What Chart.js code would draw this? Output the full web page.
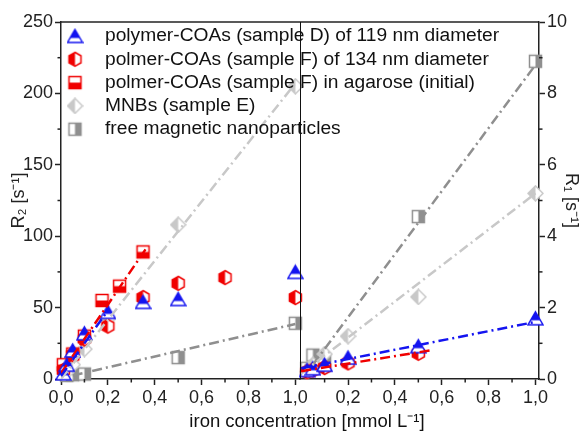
<!DOCTYPE html>
<html>
<head>
<meta charset="utf-8">
<script src="https://cdn.jsdelivr.net/npm/chart.js@4/dist/chart.umd.min.js"></script>
<style>
  html, body { margin: 0; padding: 0; background: #fff; }
</style>
</head>
<body>
<canvas id="chart" width="585" height="432"></canvas>
<script>
// legend labels
const seriesNames = [
  'polymer-COAs (sample D) of 119 nm diameter',
  'polmer-COAs (sample F) of 134 nm diameter',
  'polmer-COAs (sample F) in agarose (initial)',
  'MNBs (sample E)',
  'free magnetic nanoparticles'
];

// ticks
const xTicksL = [0, 0.2, 0.4, 0.6, 0.8, 1.0];
const xLabelsL = ['0,0', '0,2', '0,4', '0,6', '0,8', '1,0'];
const xTicksR = [0.2, 0.4, 0.6, 0.8, 1.0];
const xLabelsR = ['0,2', '0,4', '0,6', '0,8', '1,0'];
const xMinor = [0.1, 0.3, 0.5, 0.7, 0.9];
const r2Ticks = [0, 50, 100, 150, 200, 250];
const r2Minor = [25, 75, 125, 175, 225];
const r1Ticks = [0, 2, 4, 6, 8, 10];
const r1Minor = [1, 3, 5, 7, 9];

// left panel, R2 [s-1]
const r2_D_x = [0.01, 0.025, 0.05, 0.1, 0.2, 0.35, 0.5, 1.0];
const r2_D_y = [4, 10, 20, 32, 47, 54, 56, 75];
const r2_F_x = [0.01, 0.05, 0.1, 0.2, 0.35, 0.5, 0.7, 1.0];
const r2_F_y = [6, 17, 28, 37, 57, 67, 71, 57];
const r2_Fag_x = [0.01, 0.05, 0.1, 0.175, 0.25, 0.35];
const r2_Fag_y = [10, 17.5, 30, 55, 65, 89];
const r2_E_x = [0.025, 0.05, 0.1, 0.2, 0.5, 1.0];
const r2_E_y = [5, 10, 21, 42, 108, 205];
const r2_free_x = [0.025, 0.05, 0.1, 0.5, 1.0];
const r2_free_y = [2.5, 3, 3.5, 15, 39];

// left panel fit lines (end points)
const r2_D_fitX = [0, 0.2];
const r2_D_fitY = [2, 48];
const r2_Fag_fitX = [0, 0.37];
const r2_Fag_fitY = [4, 93];
const r2_E_fitX = [0, 1.0];
const r2_E_fitY = [0, 207];
const r2_free_fitX = [0.05, 1.0];
const r2_free_fitY = [2.5, 38.5];

// right panel, R1 [s-1]
const r1_D_x = [0.025, 0.05, 0.1, 0.2, 0.5, 1.0];
const r1_D_y = [0.25, 0.3, 0.4, 0.6, 0.92, 1.7];
const r1_F_x = [0.025, 0.05, 0.1, 0.2, 0.5];
const r1_F_y = [0.2, 0.25, 0.32, 0.45, 0.72];
const r1_E_x = [0.025, 0.05, 0.1, 0.2, 0.5, 1.0];
const r1_E_y = [0.2, 0.4, 0.7, 1.2, 2.3, 5.2];
const r1_free_x = [0.025, 0.05, 0.1, 0.5, 1.0];
const r1_free_y = [0.3, 0.67, 0.5, 4.55, 8.9];

// right panel fit lines
const r1_D_fitX = [0, 1.0];
const r1_D_fitY = [0.3, 1.6];
const r1_F_fitX = [0, 0.55];
const r1_F_fitY = [0.22, 0.8];
const r1_E_fitX = [0, 1.0];
const r1_E_fitY = [0.15, 5.2];
const r1_free_fitX = [0.05, 1.0];
const r1_free_fitY = [0.4, 8.8];

const BLUE = '#1414f0';
const RED = '#f00000';
const LGRAY = '#c8c8c8';
const DGRAY = '#8f8f8f';
const AXIS = '#222';
const FONT = '"Liberation Sans", Arial, sans-serif';

const pts = (xs, ys) => xs.map((x, i) => ({ x: x, y: ys[i] }));

// half filled markers
function marker(kind, color) {
  const c = document.createElement('canvas');
  c.width = 17; c.height = 17;
  const g = c.getContext('2d');
  g.beginPath();
  let clip;
  if (kind === 'tri') {
    g.moveTo(8.5, 2); g.lineTo(16, 15); g.lineTo(1, 15); g.closePath();
    clip = [0, 0, 17, 10.5];
  } else if (kind === 'hex') {
    g.moveTo(8.5, 1.5); g.lineTo(14.5, 5); g.lineTo(14.5, 12);
    g.lineTo(8.5, 15.5); g.lineTo(2.5, 12); g.lineTo(2.5, 5); g.closePath();
    clip = [0, 0, 8.5, 17];
  } else if (kind === 'sqBottom') {
    g.rect(2.5, 2.5, 12, 12);
    clip = [0, 8.5, 17, 9];
  } else if (kind === 'dia') {
    g.moveTo(8.5, 1); g.lineTo(16, 8.5); g.lineTo(8.5, 16); g.lineTo(1, 8.5); g.closePath();
    clip = [0, 0, 8.5, 17];
  } else {
    g.rect(2.5, 2.5, 12, 12);
    clip = [8.5, 0, 9, 17];
  }
  g.fillStyle = '#fff';
  g.fill();
  g.save();
  g.clip();
  g.fillStyle = color;
  g.fillRect(clip[0], clip[1], clip[2], clip[3]);
  g.restore();
  g.strokeStyle = color;
  g.lineWidth = 1.5;
  g.stroke();
  return c;
}

const markers = [
  marker('tri', BLUE),
  marker('hex', RED),
  marker('sqBottom', RED),
  marker('dia', LGRAY),
  marker('sqRight', DGRAY)
];

function scatter(xs, ys, idx, xAxis, yAxis) {
  return {
    data: pts(xs, ys),
    xAxisID: xAxis, yAxisID: yAxis,
    pointStyle: markers[idx],
    showLine: false,
    clip: false,
    order: 1
  };
}

function fit(xs, ys, color, xAxis, yAxis) {
  return {
    data: pts(xs, ys),
    xAxisID: xAxis, yAxisID: yAxis,
    showLine: true,
    borderColor: color,
    borderWidth: 2.5,
    borderDash: [10, 4, 2, 4],
    pointRadius: 0,
    order: 0
  };
}

const datasets = [
  scatter(r2_D_x, r2_D_y, 0, 'xL', 'yL'),
  scatter(r2_F_x, r2_F_y, 1, 'xL', 'yL'),
  scatter(r2_Fag_x, r2_Fag_y, 2, 'xL', 'yL'),
  scatter(r2_E_x, r2_E_y, 3, 'xL', 'yL'),
  scatter(r2_free_x, r2_free_y, 4, 'xL', 'yL'),
  fit(r2_D_fitX, r2_D_fitY, BLUE, 'xL', 'yL'),
  fit(r2_Fag_fitX, r2_Fag_fitY, RED, 'xL', 'yL'),
  fit(r2_E_fitX, r2_E_fitY, LGRAY, 'xL', 'yL'),
  fit(r2_free_fitX, r2_free_fitY, DGRAY, 'xL', 'yL'),

  scatter(r1_D_x, r1_D_y, 0, 'xR', 'yR'),
  scatter(r1_F_x, r1_F_y, 1, 'xR', 'yR'),
  scatter(r1_E_x, r1_E_y, 3, 'xR', 'yR'),
  scatter(r1_free_x, r1_free_y, 4, 'xR', 'yR'),
  fit(r1_D_fitX, r1_D_fitY, BLUE, 'xR', 'yR'),
  fit(r1_F_fitX, r1_F_fitY, RED, 'xR', 'yR'),
  fit(r1_E_fitX, r1_E_fitY, LGRAY, 'xR', 'yR'),
  fit(r1_free_fitX, r1_free_fitY, DGRAY, 'xR', 'yR')
];

const tickFont = { family: FONT, size: 18 };
const grid = { display: true, drawOnChartArea: false, drawTicks: true, tickLength: 6, color: AXIS, tickWidth: 1.5 };
const border = { display: true, color: AXIS, width: 1.5 };

function xAxis(min, max, tickVals, labels) {
  return {
    type: 'linear', position: 'bottom', stack: 'panels', stackWeight: 1,
    min: min, max: max,
    afterBuildTicks: s => { s.ticks = tickVals.map(v => ({ value: v })); },
    ticks: { font: tickFont, color: '#222', padding: 2, maxRotation: 0, autoSkip: false,
             callback: (v, i) => labels[i] },
    grid: grid, border: border,
    afterFit: s => { s.height = 53; }
  };
}

const extras = {
  id: 'extras',
  afterDraw(chart) {
    const { ctx, chartArea: a, scales } = chart;
    const line = (x1, y1, x2, y2) => { ctx.beginPath(); ctx.moveTo(x1, y1); ctx.lineTo(x2, y2); ctx.stroke(); };
    ctx.save();
    ctx.strokeStyle = AXIS;
    ctx.lineWidth = 1.5;
    line(a.left, a.top, a.right, a.top);
    // minor ticks
    xMinor.forEach(v => {
      let p = scales.xL.getPixelForValue(v); line(p, a.bottom, p, a.bottom + 3.5);
      p = scales.xR.getPixelForValue(v); line(p, a.bottom, p, a.bottom + 3.5);
    });
    r2Minor.forEach(v => { const p = scales.yL.getPixelForValue(v); line(a.left - 3.5, p, a.left, p); });
    r1Minor.forEach(v => { const p = scales.yR.getPixelForValue(v); line(a.right, p, a.right + 3.5, p); });
    // panel divider
    ctx.lineWidth = 1;
    ctx.strokeStyle = '#111';
    const xd = Math.round(scales.xR.left) + 0.5;
    line(xd, a.top, xd, a.bottom);
    // legend
    ctx.font = '19.2px ' + FONT;
    ctx.fillStyle = '#111';
    ctx.textBaseline = 'middle';
    seriesNames.forEach((name, i) => {
      const y = a.top + 14 + i * 23.3;
      const m = markers[i];
      ctx.drawImage(m, a.left + 14 - m.width / 2, y - m.height / 2);
      ctx.fillText(name, a.left + 44, y);
    });
    // x title
    ctx.font = '18.5px ' + FONT;
    ctx.textAlign = 'center';
    ctx.fillText('iron concentration [mmol L⁻¹]', (a.left + a.right) / 2 + 7, a.bottom + 43);
    ctx.restore();
  }
};

new Chart(document.getElementById('chart'), {
  type: 'scatter',
  data: { datasets: datasets },
  options: {
    responsive: false,
    animation: false,
    devicePixelRatio: 1,
    layout: { padding: { top: 22, left: 0, right: 0, bottom: 0 } },
    plugins: { legend: { display: false }, tooltip: { enabled: false } },
    scales: {
      xL: xAxis(0, 1.02, xTicksL, xLabelsL),
      xR: xAxis(-0.005, 1.015, xTicksR, xLabelsR),
      yL: {
        type: 'linear', position: 'left', min: 0, max: 250,
        afterBuildTicks: s => { s.ticks = r2Ticks.map(v => ({ value: v })); },
        ticks: { font: tickFont, color: '#222', padding: 2 },
        grid: grid, border: border,
        title: { display: true, text: 'R₂ [s⁻¹]', font: tickFont, color: '#222', padding: { top: 8, bottom: 0 } },
        afterFit: s => { s.width = 61; }
      },
      yR: {
        type: 'linear', position: 'right', min: 0, max: 10,
        afterBuildTicks: s => { s.ticks = r1Ticks.map(v => ({ value: v })); },
        ticks: { font: tickFont, color: '#222', padding: 2 },
        grid: grid, border: border,
        title: { display: true, text: 'R₁ [s⁻¹]', font: tickFont, color: '#222', padding: { top: 3, bottom: 0 } },
        afterFit: s => { s.width = 46; }
      }
    }
  },
  plugins: [extras]
});
</script>
</body>
</html>
